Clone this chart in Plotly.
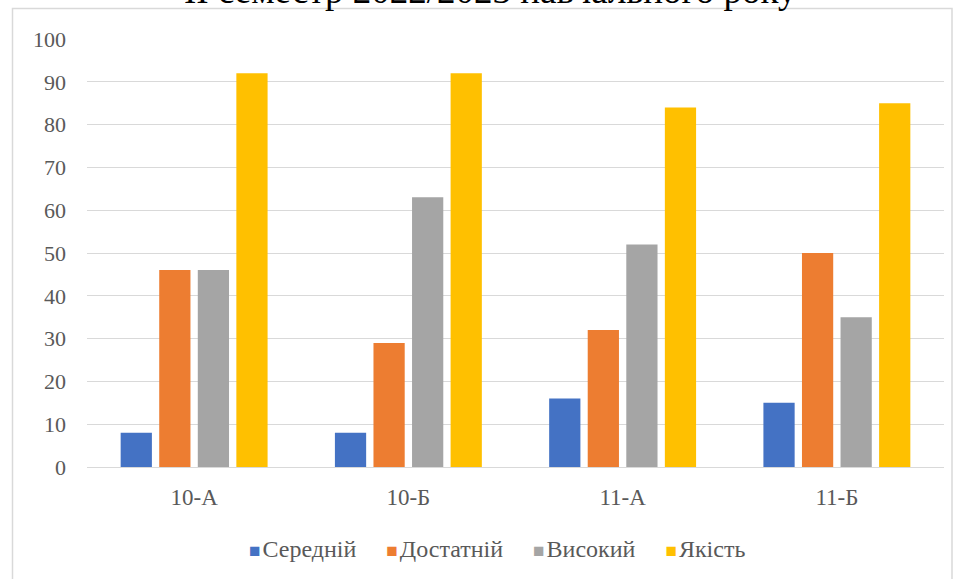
import plotly.graph_objects as go

categories = ["10-А", "10-Б", "11-А", "11-Б"]
series_names = ["Середній", "Достатній", "Високий", "Якість"]
seredniy = [8, 8, 16, 15]
dostatniy = [46, 29, 32, 50]
vysokyy = [46, 63, 52, 35]
yakist = [92, 92, 84, 85]
title_text = "ІІ семестр 2022/2023 навчального року"

colors = ["#4472C4", "#ED7D31", "#A5A5A5", "#FFC000"]
values = [seredniy, dostatniy, vysokyy, yakist]

FF = "Times New Roman, Liberation Serif, DejaVu Serif, serif"

fig = go.Figure()
for name, vals, col in zip(series_names, values, colors):
    fig.add_trace(go.Bar(x=categories, y=vals, name=name, marker=dict(color=col, line=dict(width=0))))

W, H = 954, 579
L, R, T, B = 87, 10, 39, 112
pw = W - L - R
ph = H - T - B

def px_x(x):
    return (x - L) / pw

def px_y(y):
    return 1 - (y - T) / ph

legend_text = "&nbsp;&nbsp;&nbsp;&nbsp;&nbsp;".join(
    f"<span style='color:{c};font-size:19px'>■</span><span style='font-size:8px'>&nbsp;</span>{n}"
    for n, c in zip(series_names, colors)
)

fig.update_layout(
    width=W, height=H,
    margin=dict(l=L, r=R, t=T, b=B, pad=0),
    paper_bgcolor="white", plot_bgcolor="white",
    barmode="group", bargap=0.28, bargroupgap=0.19,
    font=dict(family=FF, size=22, color="#595959"),
    showlegend=False,
    xaxis=dict(showgrid=False, showline=False, zeroline=False, ticks="",
               tickfont=dict(family=FF, size=23, color="#595959"), ticklabelstandoff=14),
    yaxis=dict(range=[0, 100], dtick=10, showgrid=True, gridcolor="#D9D9D9", gridwidth=1,
               zeroline=True, zerolinecolor="#D9D9D9", zerolinewidth=1, showline=False,
               ticks="", tickfont=dict(family=FF, size=22, color="#595959"), ticklabelstandoff=20),
    shapes=[dict(type="rect", xref="paper", yref="paper",
                 x0=px_x(12.5), x1=px_x(952), y0=px_y(600), y1=px_y(8.5),
                 line=dict(color="#D9D9D9", width=1.5), fillcolor="rgba(0,0,0,0)", layer="below")],
    annotations=[
        dict(text=title_text, xref="paper", yref="paper", x=px_x(490), y=px_y(13),
             xanchor="center", yanchor="bottom", showarrow=False,
             font=dict(family=FF, size=37, color="black")),
        dict(text=legend_text, xref="paper", yref="paper", x=px_x(497), y=px_y(549),
             xanchor="center", yanchor="middle", showarrow=False,
             font=dict(family=FF, size=24, color="#595959")),
    ],
)

fig.write_html("out.html", config={"displayModeBar": False},
               post_script="document.body.style.margin='0';document.body.style.overflow='hidden';")
